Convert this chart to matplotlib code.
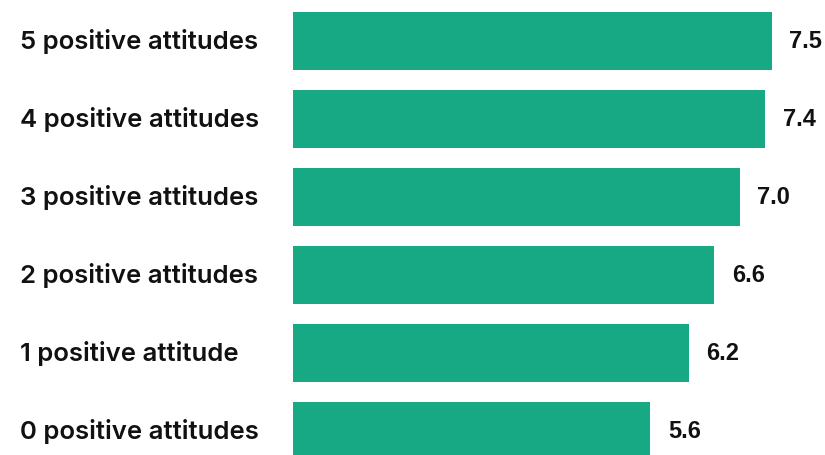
import matplotlib
matplotlib.use("Agg")
import matplotlib.pyplot as plt

categories = ["0 positive attitudes", "1 positive attitude", "2 positive attitudes",
              "3 positive attitudes", "4 positive attitudes", "5 positive attitudes"]
values = [5.6, 6.2, 6.6, 7.0, 7.4, 7.5]
value_labels = ["5.6", "6.2", "6.6", "7.0", "7.4", "7.5"]

bar_color = "#16a984"

fig = plt.figure(figsize=(8.25, 4.56), dpi=100)
ax = fig.add_axes([0, 0, 1, 1])

ypos = list(range(len(categories)))
ax.barh(ypos, values, height=0.74, color=bar_color)

# 0 sits at x=293px, ~63.8 px per unit
ax.set_xlim(-293 / 63.8, (825 - 293) / 63.8)
ax.set_ylim(-24 / 78, 432 / 78)
ax.axis("off")

for y, cat in zip(ypos, categories):
    ax.text(-273 / 63.8, y, cat, ha="left", va="center",
            fontsize=18.5, fontweight="semibold", family=["Inter", "DejaVu Sans"],
            color="#111111")

for y, v, lab in zip(ypos, values, value_labels):
    ax.text(v + 0.28, y, lab, ha="left", va="center",
            fontsize=17, fontweight="bold", family=["Liberation Sans", "DejaVu Sans"],
            color="#111111")

fig.savefig("out.png", dpi=100)
